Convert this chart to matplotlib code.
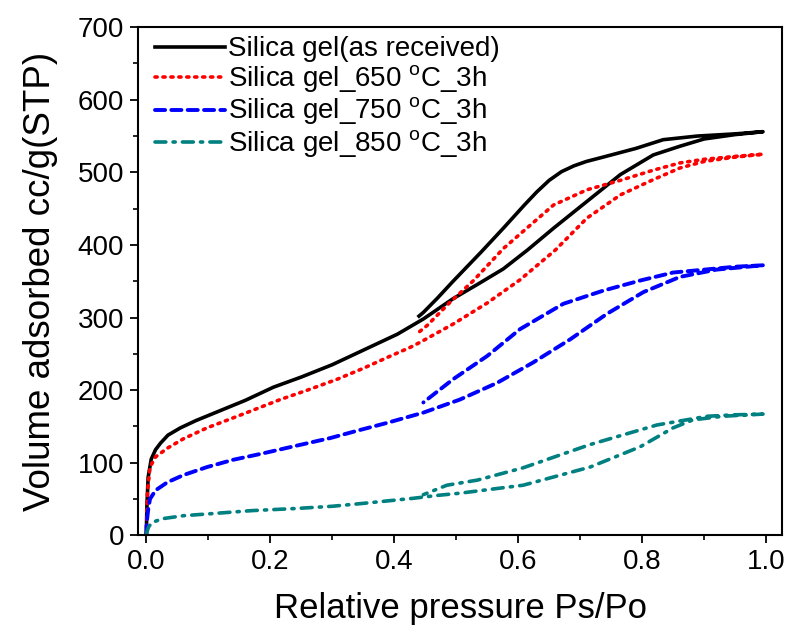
import numpy as np
import matplotlib
matplotlib.use('Agg')
import matplotlib.pyplot as plt
from matplotlib.ticker import MultipleLocator

plt.rcParams['font.family'] = ['Liberation Sans', 'DejaVu Sans']
plt.rcParams['mathtext.fontset'] = 'custom'
plt.rcParams['mathtext.rm'] = 'Liberation Sans'

# Silica gel (as received): adsorption then desorption branch
x_raw = [0, 0.001, 0.003, 0.008, 0.015, 0.023, 0.035, 0.055, 0.08, 0.12, 0.16, 0.205,
         0.25, 0.3, 0.35, 0.405, 0.447, 0.495, 0.535, 0.576, 0.615, 0.657, 0.711, 0.765,
         0.818, 0.861, 0.9, 0.95, 0.995,
         0.95, 0.889, 0.834, 0.79, 0.737, 0.71, 0.69, 0.67, 0.65, 0.63, 0.61, 0.576, 0.54,
         0.495, 0.47, 0.447, 0.44]
y_raw = [0, 40, 80, 105, 118, 127, 138, 148, 158, 172, 186, 204,
         218, 235, 255, 277, 298, 326, 346, 367, 393, 423, 460, 497,
         524, 536, 546, 552, 556,
         553, 550, 545, 533, 521, 515, 509, 501, 489, 473, 455, 423, 390,
         350, 327, 307, 302]

# Silica gel 650 C 3h
x_650 = [0, 0.002, 0.006, 0.015, 0.034, 0.06, 0.098, 0.15, 0.216, 0.26, 0.308, 0.35,
         0.394, 0.426, 0.442, 0.495, 0.55, 0.603, 0.66, 0.711, 0.765, 0.818, 0.861,
         0.9, 0.95, 0.995,
         0.95, 0.9, 0.861, 0.818, 0.765, 0.711, 0.657, 0.576, 0.528, 0.49, 0.453, 0.44]
y_650 = [0, 60, 94, 108, 120, 133, 148, 165, 187, 200, 215, 230,
         247, 259, 266, 291, 320, 352, 393, 437, 469, 490, 506,
         515, 521, 525,
         522, 518, 513, 503, 489, 476, 455, 395, 351, 321, 289, 280]

# Silica gel 750 C 3h
x_750 = [0, 0.001, 0.003, 0.006, 0.015, 0.034, 0.06, 0.098, 0.14, 0.189, 0.24, 0.297,
         0.34, 0.389, 0.447, 0.506, 0.566, 0.624, 0.684, 0.743, 0.802, 0.861, 0.92, 0.995,
         0.95, 0.888, 0.85, 0.797, 0.737, 0.673, 0.603, 0.55, 0.495, 0.447]
y_750 = [0, 20, 35, 50, 62, 73, 83, 94, 104, 113, 123, 134,
         144, 155, 169, 187, 210, 238, 270, 305, 335, 356, 366, 372,
         370, 365, 362, 351, 337, 319, 284, 247, 215, 183]

# Silica gel 850 C 3h
x_850 = [0, 0.001, 0.004, 0.01, 0.027, 0.06, 0.108, 0.17, 0.243, 0.3, 0.35, 0.431,
         0.47, 0.506, 0.608, 0.716, 0.797, 0.85, 0.882, 0.93, 0.995,
         0.95, 0.905, 0.824, 0.716, 0.608, 0.534, 0.485, 0.447]
y_850 = [0, 5, 12, 18, 23, 27, 30, 34, 37, 40, 44, 51,
         55, 58, 69, 94, 122, 148, 159, 164, 167,
         166, 164, 152, 125, 93, 76, 69, 56]

labels = ['Silica gel(as received)',
          r'Silica gel_650 $^{\mathregular{o}}$C_3h',
          r'Silica gel_750 $^{\mathregular{o}}$C_3h',
          r'Silica gel_850 $^{\mathregular{o}}$C_3h']

fig = plt.figure(figsize=(7.99, 6.32), dpi=100)
ax = fig.add_axes([0.173, 0.153, 0.806, 0.804])

ax.plot(x_raw, y_raw, color='black', linewidth=2.6, linestyle='-', label=labels[0])
ax.plot(x_650, y_650, color='#FF0000', linewidth=2.6, linestyle=(0, (0.6, 1.6)),
        dash_capstyle='round', label=labels[1])
ax.plot(x_750, y_750, color='#0000FF', linewidth=2.8, linestyle=(0, (2.6, 1.6)),
        dash_capstyle='round', label=labels[2])
ax.plot(x_850, y_850, color='#008080', linewidth=2.6, linestyle=(0, (3, 2, 0.6, 2)),
        dash_capstyle='round', label=labels[3])

ax.set_xlim(-0.013, 1.026)
ax.set_ylim(0, 700)
ax.xaxis.set_minor_locator(MultipleLocator(0.1))
ax.yaxis.set_major_locator(MultipleLocator(100))
ax.yaxis.set_minor_locator(MultipleLocator(50))
ax.set_xticks(np.arange(0, 1.01, 0.2))
ax.set_xticklabels(['0.0', '0.2', '0.4', '0.6', '0.8', '1.0'])
ax.tick_params(which='major', direction='out', length=6, width=1.3, labelsize=20,
               top=False, right=False, pad=4)
ax.tick_params(which='minor', direction='out', length=3.5, width=1.2, top=False, right=False)
for s in ax.spines.values():
    s.set_linewidth(1.5)

ax.set_xlabel('Relative pressure Ps/Po', fontsize=25, labelpad=12)
ax.set_ylabel('Volume adsorbed cc/g(STP)', fontsize=26.5, labelpad=14)

ax.legend(loc='upper left', bbox_to_anchor=(0.003, 1.012), frameon=False, fontsize=20,
          handlelength=2.5, handletextpad=0.12, labelspacing=0.03, borderaxespad=0.15)

fig.savefig('out.png', dpi=100)
